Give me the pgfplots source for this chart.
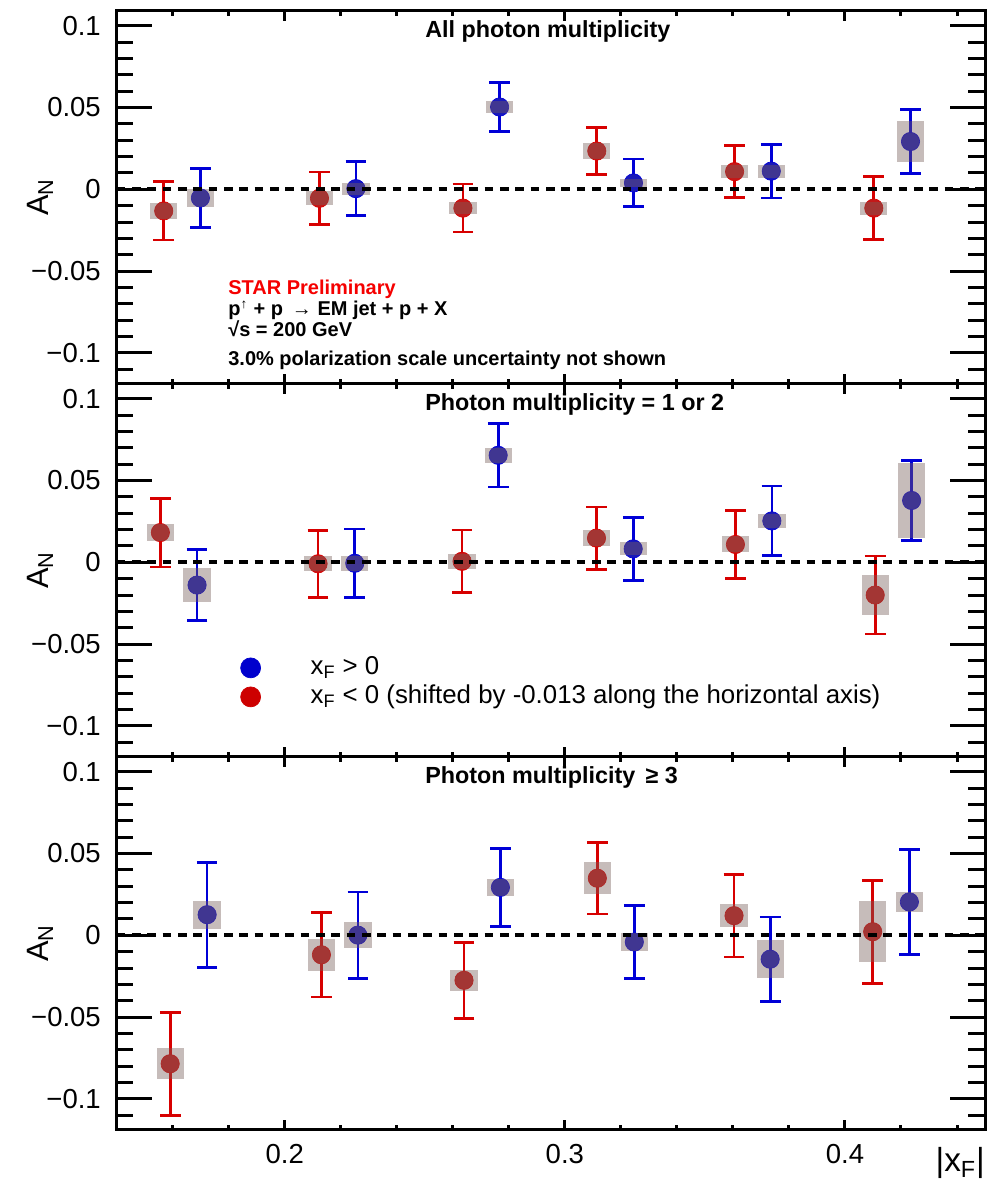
\documentclass[border=0pt]{standalone}
\usepackage{fontspec}
\setmainfont{Liberation Sans}
\usepackage{pgfplots}
\usepackage{pgfplotstable}
\pgfplotsset{compat=1.18}

\definecolor{ebblue}{RGB}{0,0,215}
\definecolor{ebred}{RGB}{215,0,0}
\definecolor{mkblue}{RGB}{25,25,185}
\definecolor{mkred}{RGB}{195,25,25}
\definecolor{legblue}{RGB}{0,0,205}
\definecolor{legred}{RGB}{205,0,0}
\definecolor{syscol}{RGB}{120,95,90}
\definecolor{starred}{RGB}{245,0,0}

\pgfplotsset{
  panel/.style={
    scale only axis, width=521pt, height=223.8pt,
    xmin=0.14, xmax=0.45, ymin=-0.119, ymax=0.109,
    clip marker paths=true,
    axis line style={line width=1.8pt},
    tick style={line width=1.8pt, black},
    tick align=inside,
    xtick={0.2,0.3,0.4},
    minor xtick={0.16,0.18,0.22,0.24,0.26,0.28,0.32,0.34,0.36,0.38,0.42,0.44},
    ytick={-0.1,-0.05,0,0.05,0.1},
    yticklabels={−0.1,−0.05,0,0.05,0.1},
    minor ytick={-0.11,-0.09,-0.08,-0.07,-0.06,-0.04,-0.03,-0.02,-0.01,0.01,0.02,0.03,0.04,0.06,0.07,0.08,0.09},
    xtick pos=both, ytick pos=both, yticklabel pos=left,
    major x tick style={/pgfplots/major tick length=6pt},
    minor x tick style={/pgfplots/minor tick length=3pt},
    major y tick style={/pgfplots/major tick length=21pt},
    minor y tick style={/pgfplots/minor tick length=10pt},
    ticklabel style={font=\fontsize{16.5}{18}\selectfont},
    yticklabel style={xshift=-6pt},
    xticklabel style={yshift=-5pt},
    ylabel={A\textsubscript{N}},
    every axis y label/.style={at={(rel axis cs:0,0.5)}, rotate=90, anchor=center,
      yshift=46pt, font=\fontsize{18.5}{20}\selectfont},
    title style={at={(rel axis cs:0.355,1)}, anchor=base west, inner sep=0pt,
      yshift=-22.2pt, font=\bfseries\fontsize{14}{16}\selectfont},
  },
  pts/.style 2 args={only marks, mark=*, mark size=5.5pt, color=#1,
    mark options={fill=#2, draw=none},
    error bars/y dir=both, error bars/y explicit,
    error bars/error mark=|,
    error bars/error bar style={line width=1.6pt},
    error bars/error mark options={line width=1.6pt, mark size=6.2pt}},
  % systematic boxes: very wide error bars with butt caps, no marks
  sys/.style={draw=none, mark=none, forget plot,
    error bars/y dir=both, error bars/y explicit, error bars/error mark=none,
    error bars/error bar style={draw=syscol, line width=16.4pt, opacity=0.42, line cap=butt}},
  zero/.style={black, line width=2.3pt, dash pattern=on 5.2pt off 4pt, forget plot},
}

% columns: x, A_N, stat. error, syst. half-height
\pgfplotstableread{
x y e s
0.1699 -0.0053 0.0180 0.0056
0.2254  0.0004 0.0165 0.0037
0.2767  0.0503 0.0149 0.0036
0.3245  0.0039 0.0146 0.0027
0.3737  0.0111 0.0164 0.0040
0.4234  0.0292 0.0196 0.0125
}\topblue
\pgfplotstableread{
x y e s
0.1568 -0.0132 0.0178 0.0049
0.2124 -0.0055 0.0160 0.0043
0.2636 -0.0115 0.0147 0.0036
0.3114  0.0234 0.0144 0.0046
0.3606  0.0108 0.0160 0.0040
0.4103 -0.0115 0.0192 0.0040
}\topred
\pgfplotstableread{
x y e s
0.1687 -0.0139 0.0218 0.0104
0.2250 -0.0006 0.0209 0.0045
0.2762  0.0654 0.0194 0.0045
0.3244  0.0082 0.0193 0.0040
0.3739  0.0253 0.0213 0.0045
0.4238  0.0378 0.0244 0.0229
}\midblue
\pgfplotstableread{
x y e s
0.1556  0.0182 0.0210 0.0053
0.2119 -0.0009 0.0205 0.0047
0.2633  0.0006 0.0192 0.0045
0.3113  0.0148 0.0190 0.0049
0.3609  0.0109 0.0206 0.0049
0.4108 -0.0200 0.0239 0.0121
}\midred
\pgfplotstableread{
x y e s
0.1723  0.0126 0.0321 0.0085
0.2261  0.0001 0.0263 0.0078
0.2770  0.0293 0.0238 0.0052
0.3248 -0.0041 0.0222 0.0054
0.3733 -0.0146 0.0258 0.0117
0.4230  0.0204 0.0320 0.0063
}\botblue
\pgfplotstableread{
x y e s
0.1591 -0.0785 0.0315 0.0095
0.2131 -0.0119 0.0259 0.0098
0.2640 -0.0275 0.0233 0.0064
0.3116  0.0349 0.0218 0.0098
0.3604  0.0120 0.0252 0.0071
0.4099  0.0022 0.0315 0.0188
}\botred

\begin{document}
\begin{tikzpicture}
\path[use as bounding box] (0,0) rectangle (598.8pt,713.4pt);

% top panel
\begin{axis}[panel, at={(70pt,483pt)}, anchor=south west,
  xticklabels={,,}, title={All photon multiplicity}]
\addplot[pts={ebred}{mkred}] table[x=x,y=y,y error=e] {\topred};
\addplot[pts={ebblue}{mkblue}] table[x=x,y=y,y error=e] {\topblue};
\addplot[sys] table[x=x,y=y,y error=s] {\topred};
\addplot[sys] table[x=x,y=y,y error=s] {\topblue};
\addplot[zero] coordinates {(0.14,0) (0.45,0)};
\node[anchor=base west, inner sep=0pt, text=starred, font=\bfseries\fontsize{12}{14}\selectfont]
  at (rel axis cs:0.1282,0.2399) {STAR Preliminary};
\node[anchor=base west, inner sep=0pt, font=\bfseries\fontsize{12}{14}\selectfont]
  at (rel axis cs:0.1282,0.1826) {p\textsuperscript{↑} + p \,→ EM jet + p + X};
\node[anchor=base west, inner sep=0pt, font=\bfseries\fontsize{12}{14}\selectfont]
  at (rel axis cs:0.1282,0.1262) {√s = 200 GeV};
\node[anchor=base west, inner sep=0pt, font=\bfseries\fontsize{12}{14}\selectfont]
  at (rel axis cs:0.1282,0.0502) {3.0\% polarization scale uncertainty not shown};
\end{axis}

% middle panel
\begin{axis}[panel, at={(70pt,259.2pt)}, anchor=south west,
  xticklabels={,,}, title={Photon multiplicity = 1 or 2},
  legend style={at={(0.142,0.2)}, anchor=west, draw=none, fill=none, inner sep=0pt,
    font=\fontsize{15.5}{17}\selectfont,
    nodes={inner sep=1pt, text height=11pt, text depth=3.4pt}, row sep=1pt},
  legend cell align=left]
\addlegendimage{legend image code/.code={\path[draw=none,fill=none] (0pt,-0.1pt) rectangle (41pt,0.1pt); \fill[legblue] (6pt,0pt) circle (6pt);}}
\addlegendentry{x\textsubscript{F} > 0}
\addlegendimage{legend image code/.code={\path[draw=none,fill=none] (0pt,-0.1pt) rectangle (41pt,0.1pt); \fill[legred] (6pt,0pt) circle (6pt);}}
\addlegendentry{x\textsubscript{F} < 0 (shifted by -0.013 along the horizontal axis)}
\addplot[pts={ebred}{mkred}, forget plot] table[x=x,y=y,y error=e] {\midred};
\addplot[pts={ebblue}{mkblue}, forget plot] table[x=x,y=y,y error=e] {\midblue};
\addplot[sys] table[x=x,y=y,y error=s] {\midred};
\addplot[sys] table[x=x,y=y,y error=s] {\midblue};
\addplot[zero] coordinates {(0.14,0) (0.45,0)};
\end{axis}

% bottom panel
\begin{axis}[panel, at={(70pt,35.4pt)}, anchor=south west,
  xticklabels={0.2,0.3,0.4}, title={Photon multiplicity \,≥ 3},
  xlabel={|x\textsubscript{F}|},
  every axis x label/.style={at={(rel axis cs:1,0)}, anchor=north east, inner sep=0pt,
    yshift=-10.5pt, font=\fontsize{20}{22}\selectfont}]
\addplot[pts={ebred}{mkred}] table[x=x,y=y,y error=e] {\botred};
\addplot[pts={ebblue}{mkblue}] table[x=x,y=y,y error=e] {\botblue};
\addplot[sys] table[x=x,y=y,y error=s] {\botred};
\addplot[sys] table[x=x,y=y,y error=s] {\botblue};
\addplot[zero] coordinates {(0.14,0) (0.45,0)};
\end{axis}
\end{tikzpicture}
\end{document}
